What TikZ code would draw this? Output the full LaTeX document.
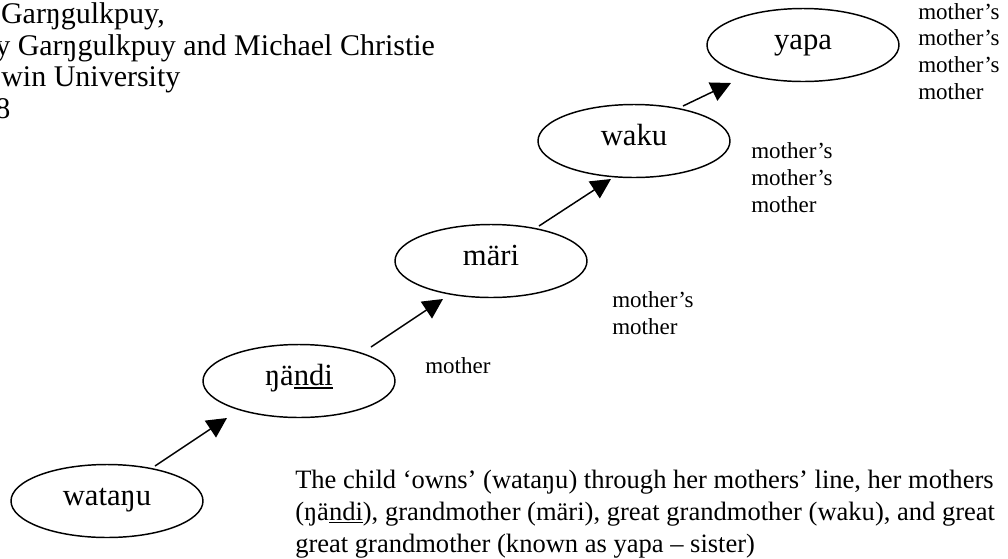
\documentclass[tikz,border=0pt]{standalone}
\usepackage{fontspec}
\setmainfont{Liberation Serif}
\usetikzlibrary{arrows.meta,shapes.geometric,calc}
% underlined syllable with a slightly heavier rule
\newcommand{\kinul}[1]{\setbox0\hbox{#1}\rlap{\rule[-0.13em]{\wd0}{0.05em}}\box0}

\begin{document}
\begin{tikzpicture}[x=0.75pt,y=-0.75pt,
  kin/.style={ellipse,draw,line width=1.1pt,minimum width=144pt,minimum height=54.75pt,
    inner sep=0pt,text height=14pt,text depth=8pt,font=\fontsize{23}{27}\selectfont},
  link/.style={line width=1.1pt,-{Triangle[length=15pt,width=15pt]}},
  % multi-line texts are placed by the baseline of their last line
  note/.style={font=\fontsize{17.25}{20}\selectfont,align=left,anchor=base west,inner sep=0pt},
  head/.style={font=\fontsize{22.5}{24}\selectfont,inner sep=0pt},
  caption/.style={font=\fontsize{19.9}{24}\selectfont,align=left,anchor=base west,inner sep=0pt}]
\useasboundingbox (0,0) rectangle (1008,558);

% heading lines
\node[head,anchor=base east] (h1) at (165,23) {Garŋgulkpuy,};
\node[head,anchor=base west] (h2) at (-20,55) {by Garŋgulkpuy and Michael Christie};
\node[head,anchor=base west] (h3) at (1,86) {win University};
\node[head,anchor=base west] (h4) at (-5,118) {8};

% the maternal line
\node[kin] (wat) at (107,501) {wataŋu};
\node[kin] (nan) at (299,381) {ŋä\kinul{ndi}};
\node[kin] (mar) at (491,261) {märi};
\node[kin] (wak) at (634,141) {waku};
\node[kin] (yap) at (803,45) {yapa};

\draw[link] ($(wat)+(48,-35)$) -- ($(nan)+(-72,37)$);
\draw[link] ($(nan)+(72,-34)$) -- ($(mar)+(-48,38)$);
\draw[link] ($(mar)+(48,-35)$) -- ($(wak)+(-23,38)$);
\draw[link] ($(wak)+(49,-35)$) -- ($(yap)+(-72,38)$);

% relationship labels
\node[note] (r1) at (425,373) {mother};
\node[note] (r2) at (612,334) {mother’s\\mother};
\node[note] (r3) at (751,212) {mother’s\\mother’s\\mother};
\node[note] (r4) at (918,99) {mother’s\\mother’s\\mother’s\\mother};

% explanation
\node[caption] (txt) at (295,552) {The child ‘owns’ (wataŋu) through her mothers’ line, her mothers\\(ŋä\kinul{ndi}), grandmother (märi), great grandmother (waku), and great\\great grandmother (known as yapa – sister)};
\end{tikzpicture}
\end{document}
